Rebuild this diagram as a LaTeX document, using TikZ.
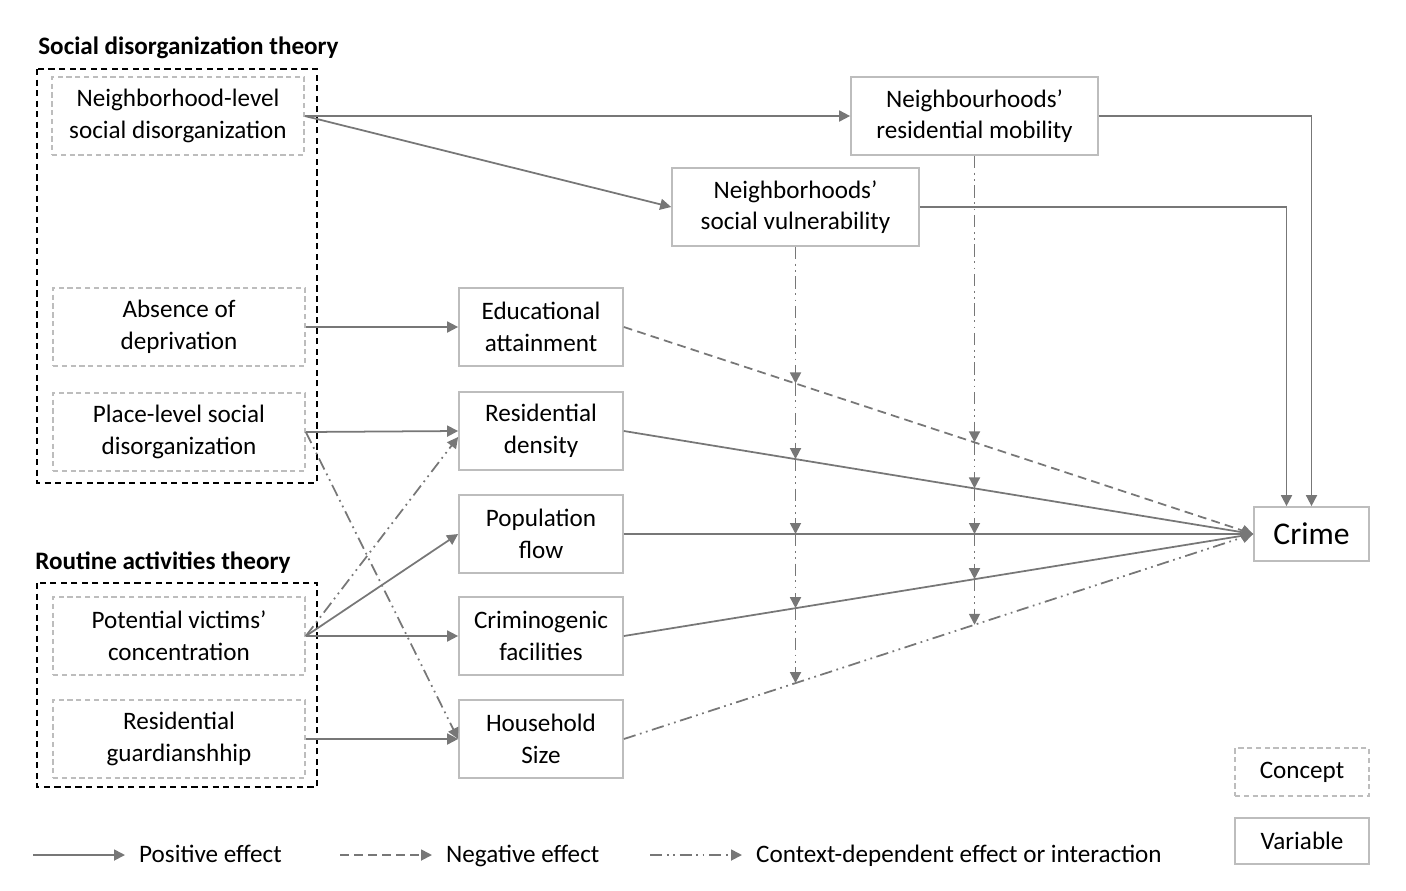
\documentclass[tikz,border=0pt]{standalone}
\usepackage{fontspec}
\setmainfont{Carlito}
\usetikzlibrary{arrows.meta,intersections}
\definecolor{linegray}{HTML}{777777}
\definecolor{boxgray}{HTML}{BDBDBD}
\tikzset{
    txt/.style={font=\fontsize{14.3}{18}\selectfont,align=center},
    conceptbox/.style={txt,draw=boxgray,line width=1pt,dash pattern=on 3pt off 2pt,minimum width=5.04cm,minimum height=1.56cm},
    varbox/.style={txt,draw=boxgray,line width=1pt,minimum width=3.28cm,minimum height=1.56cm},
    theorybox/.style={draw=black,line width=0.9pt,dash pattern=on 3.5pt off 2.5pt},
    poseffect/.style={draw=linegray,line width=1pt,-{Triangle[length=0.22cm,width=0.22cm]}},
    negeffect/.style={poseffect,dash pattern=on 5pt off 3pt},
    ctxeffect/.style={poseffect,dash pattern=on 7pt off 2.6pt on 1pt off 2.6pt on 1pt off 2.6pt},
}
\begin{document}
\begin{tikzpicture}[x=0.02cm,y=-0.02cm]
    \useasboundingbox (0,0) rectangle (1406,890);

    \node[txt,font=\fontsize{14.3}{18}\selectfont\bfseries,anchor=west,inner sep=0pt] (sdtitle) at (38,48) {Social disorganization theory};
    \node[txt,font=\fontsize{14.3}{18}\selectfont\bfseries,anchor=west,inner sep=0pt] (ratitle) at (35,563) {Routine activities theory};
    \draw[theorybox] (37,69) rectangle (317,483);
    \draw[theorybox] (37,583) rectangle (317,787);

    \node[conceptbox] (nsd) at (178,116) {Neighborhood-level\\social disorganization};
    \node[conceptbox] (absence) at (179,327) {Absence of\\deprivation};
    \node[conceptbox] (place) at (179,432) {Place-level social\\disorganization};
    \node[conceptbox] (victims) at (179,636) {Potential victims'\\concentration};
    \node[conceptbox] (guard) at (179,739) {Residential\\guardianshhip};

    \node[varbox] (edu) at (541,327) {Educational\\attainment};
    \node[varbox] (dens) at (541,431) {Residential\\density};
    \node[varbox] (pop) at (541,534) {Population\\flow};
    \node[varbox] (crimfac) at (541,636) {Criminogenic\\facilities};
    \node[varbox] (house) at (541,739) {Household\\Size};

    \node[varbox,minimum width=4.94cm] (mob) at (974.5,116) {Neighbourhoods'\\residential mobility};
    \node[varbox,minimum width=4.94cm] (vul) at (795.5,207) {Neighborhoods'\\social vulnerability};
    \node[varbox,minimum width=2.3cm,minimum height=1.08cm,font=\fontsize{18}{22}\selectfont] (crime) at (1311.5,534) {Crime};

    \draw[poseffect] (nsd.east) -- (mob.west);
    \draw[poseffect] (nsd.east) -- (vul.west);
    \draw[poseffect] (mob.east) -| (crime.north);
    \draw[poseffect] (vul.east) -| ([xshift=-0.5cm]crime.north);

    \draw[poseffect] (absence.east) -- (edu.west);
    \draw[poseffect] (place.east) -- (dens.west);
    \draw[ctxeffect] (place.east) -- (house.west);
    \draw[ctxeffect] (victims.east) -- ([yshift=-0.12cm]dens.west);
    \draw[poseffect] (victims.east) -- (pop.west);
    \draw[poseffect] (victims.east) -- (crimfac.west);
    \draw[poseffect] (guard.east) -- (house.west);

    \draw[negeffect,name path=eduline] (edu.east) -- (crime.west);
    \draw[poseffect,name path=densline] (dens.east) -- (crime.west);
    \draw[poseffect,name path=popline] (pop.east) -- (crime.west);
    \draw[poseffect,name path=facline] (crimfac.east) -- (crime.west);
    \draw[ctxeffect,name path=houseline] (house.east) -- (crime.west);

    % interaction effects on the paths to crime
    \path[name path=vulcut] (vul.south) -- ++(0,600);
    \path[name path=mobcut] (mob.south) -- ++(0,700);
    \foreach \l/\i in {eduline/1,densline/2,popline/3,facline/4,houseline/5} {
        \path[name intersections={of=vulcut and \l,by=a\i}];
        \path[name intersections={of=mobcut and \l,by=b\i}];
    }
    \draw[ctxeffect] (vul.south) -- (a1);
    \draw[ctxeffect] (mob.south) -- (b1);
    \foreach \p/\q in {a1/a2,a2/a3,a3/a4,a4/a5,b1/b2,b2/b3,b3/b4,b4/b5}
        \draw[ctxeffect] (\p) -- (\q);

    % legend
    \node[conceptbox,minimum width=2.68cm,minimum height=0.96cm] (legconcept) at (1302,772) {Concept};
    \node[varbox,minimum width=2.68cm,minimum height=0.92cm] (legvariable) at (1302,841) {Variable};
    \coordinate (lpa) at (33,855);
    \coordinate (lpb) at (125,855);
    \coordinate (lna) at (340,855);
    \coordinate (lnb) at (432,855);
    \coordinate (lca) at (650,855);
    \coordinate (lcb) at (742,855);
    \draw[poseffect] (lpa) -- (lpb);
    \draw[negeffect] (lna) -- (lnb);
    \draw[ctxeffect] (lca) -- (lcb);
    \node[txt,anchor=base west] (lptext) at (133,862) {Positive effect};
    \node[txt,anchor=base west] (lntext) at (440,862) {Negative effect};
    \node[txt,anchor=base west] (lctext) at (750,862) {Context-dependent effect or interaction};
\end{tikzpicture}
\end{document}
